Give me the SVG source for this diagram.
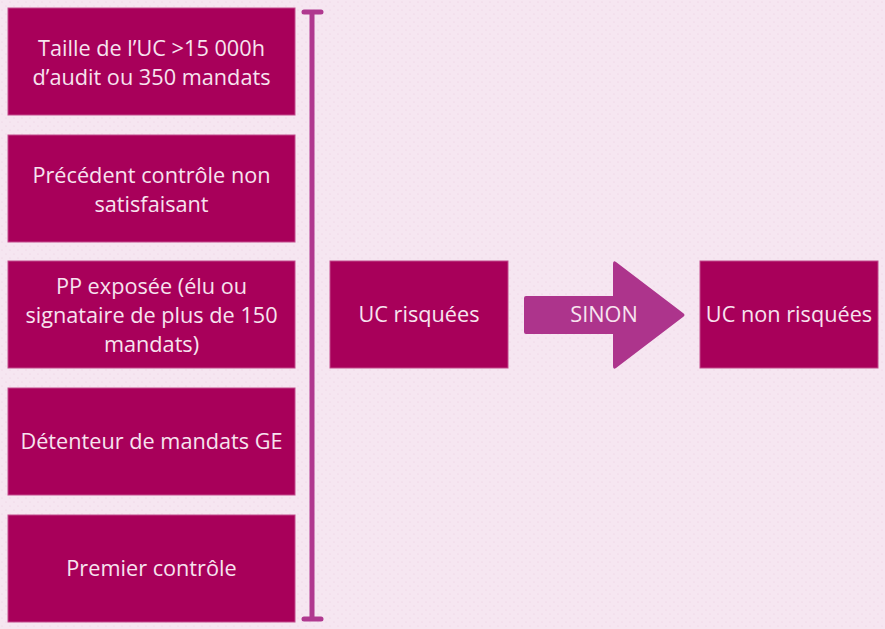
<svg xmlns="http://www.w3.org/2000/svg" width="885" height="629" viewBox="0 0 885 629">
<defs>
<pattern id="dots" width="8" height="8" patternUnits="userSpaceOnUse">
<rect width="8" height="8" fill="#F6E6F1"/>
<circle cx="2" cy="2" r="0.6" fill="#EBCFE0"/>
<circle cx="6" cy="6" r="0.6" fill="#EBCFE0"/>
</pattern>
<style>
.box{fill:#A8005A;stroke:#C24A8C;stroke-width:1}
.t{font-family:"Open Sans","Noto Sans",sans-serif;font-size:21.7px;fill:#F7E3EF;text-anchor:middle}
.br{stroke:#B0388F;stroke-width:5;stroke-linecap:round;fill:none}
</style>
</defs>
<rect width="885" height="629" fill="url(#dots)"/>
<g id="n1"><rect class="box" x="8" y="8" width="287" height="107"/>
<text class="t" x="151.5" y="56">Taille de l’UC &gt;15 000h</text>
<text class="t" x="151.5" y="85">d’audit ou 350 mandats</text></g>
<g id="n2"><rect class="box" x="8" y="135" width="287" height="107"/>
<text class="t" x="151.5" y="183">Précédent contrôle non</text>
<text class="t" x="151.5" y="212">satisfaisant</text></g>
<g id="n3"><rect class="box" x="8" y="261" width="287" height="107"/>
<text class="t" x="151.5" y="294">PP exposée (élu ou</text>
<text class="t" x="151.5" y="323">signataire de plus de 150</text>
<text class="t" x="151.5" y="352">mandats)</text></g>
<g id="n4"><rect class="box" x="8" y="388" width="287" height="107"/>
<text class="t" x="151.5" y="449">Détenteur de mandats GE</text></g>
<g id="n5"><rect class="box" x="8" y="515" width="287" height="107"/>
<text class="t" x="151.5" y="576">Premier contrôle</text></g>
<g id="bracket">
<path class="br" d="M312 12 V619 M304 12 H321 M304 619 H321"/>
</g>
<g id="n6"><rect class="box" x="330" y="261" width="178" height="107"/>
<text class="t" x="419" y="322">UC risquées</text></g>
<g id="connectors">
<path d="M526 296 H613 V264 Q613 260 616 262 L683 313 Q686 315 683 317 L616 368 Q613 370 613 366 V334 H526 Q524 334 524 332 V298 Q524 296 526 296 Z" fill="#AD348C"/>
<text class="t" x="604" y="322">SINON</text>
</g>
<g id="n7"><rect class="box" x="700" y="261" width="178" height="107"/>
<text class="t" x="789" y="322">UC non risquées</text></g>
</svg>
